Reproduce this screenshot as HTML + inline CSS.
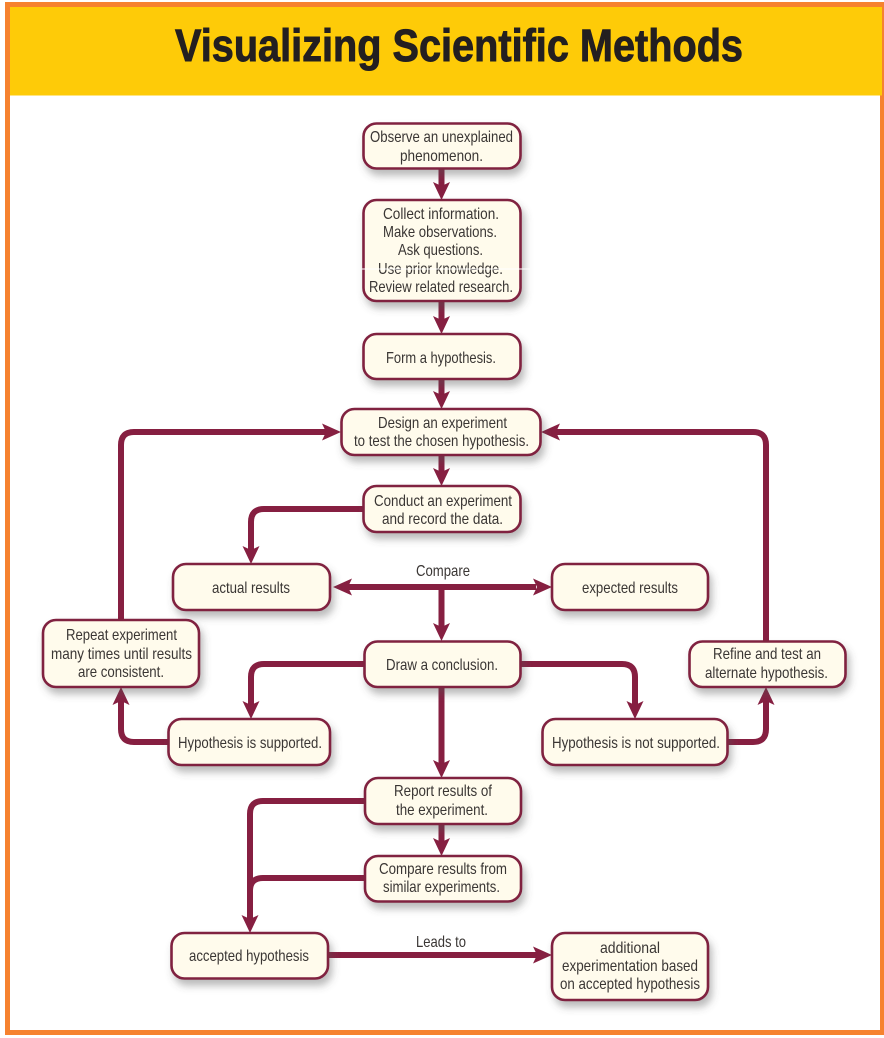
<!DOCTYPE html>
<html><head><meta charset="utf-8"><title>Visualizing Scientific Methods</title>
<style>
html,body{margin:0;padding:0;background:#fff;width:884px;height:1038px;overflow:hidden}
svg{display:block}
.t text{font-family:"Liberation Sans Narrow","Liberation Sans",sans-serif;font-size:16px;fill:#3a3634}
.b rect{fill:#fffbec;stroke:#80203f;stroke-width:2.6}
.c path.l{fill:none;stroke:#861f41;stroke-width:6}
.c path.a{fill:#861f41}
</style></head><body>
<svg width="884" height="1038" viewBox="0 0 884 1038" xmlns="http://www.w3.org/2000/svg">
<defs><filter id="s" x="-15%" y="-25%" width="135%" height="170%"><feDropShadow dx="3" dy="6" stdDeviation="4" flood-color="#555" flood-opacity=".4"/></filter></defs>
<rect width="884" height="1038" fill="#fff"/>
<path d="M5 2H884V1035H5ZM10 95V1030H880V95Z" fill="#f6822f" fill-rule="evenodd"/>
<rect x="10" y="7" width="872" height="88.500" fill="#fecb08"/>
<text x="175" y="61" textLength="568" lengthAdjust="spacingAndGlyphs" font-family="Liberation Sans" font-weight="bold" font-size="45" fill="#231f20" stroke="#231f20" stroke-width="0.9">Visualizing Scientific Methods</text>
<g class="c">
<path class="l" d="M441.500 168V187M441.500 301V321M441.500 379V396M441.500 455V473M441.500 587V628M441.500 687V765M441.500 824V843"/>
<path class="l" d="M363 509H264Q251 509 251 522V551"/>
<path class="l" d="M348 587H536"/>
<path class="l" d="M364 664H264Q251 664 251 677V706"/>
<path class="l" d="M521 664H622Q635 664 635 677V706"/>
<path class="l" d="M168 742H134Q121 742 121 729V700"/>
<path class="l" d="M121 620V445Q121 432 134 432H328"/>
<path class="l" d="M766 641V445Q766 432 753 432H554"/>
<path class="l" d="M727 742H753Q766 742 766 729V700"/>
<path class="l" d="M365 801H263Q250 801 250 814V920"/>
<path class="l" d="M365 878H263Q250 878 250 891"/>
<path class="l" d="M328 955H540"/>
<path class="a" d="M433 182L441.500 200L450 182L441.500 186ZM433 316L441.500 334L450 316L441.500 320ZM433 391L441.500 409L450 391L441.500 395ZM433 468L441.500 486L450 468L441.500 472ZM433 623L441.500 641L450 623L441.500 627ZM433 760L441.500 778L450 760L441.500 764ZM433 838L441.500 856L450 838L441.500 842Z"/>
<path class="a" d="M242.500 546L251 564L259.500 546L251 550ZM242.500 701L251 719L259.500 701L251 705ZM626.500 701L635 719L643.500 701L635 705ZM241.500 915L250 933L258.500 915L250 919Z"/>
<path class="a" d="M112.500 705L121 687L129.500 705L121 701ZM757.500 705L766 687L774.500 705L766 701Z"/>
<path class="a" d="M322 423.500L341 432L322 440.500L326 432ZM560 423.500L541 432L560 440.500L556 432Z"/>
<path class="a" d="M352 578.500L333 587L352 595.500L348 587ZM533 578.500L552 587L533 595.500L537 587ZM533 946.500L552 955L533 963.500L537 955Z"/>
</g>
<g class="b" filter="url(#s)">
<rect x="363.500" y="123.500" width="157" height="45" rx="13"/>
<rect x="363.500" y="200" width="157" height="101" rx="13"/>
<rect x="363.500" y="334" width="157" height="45" rx="13"/>
<rect x="341.500" y="409" width="199" height="46" rx="13"/>
<rect x="363.500" y="486" width="157" height="46" rx="13"/>
<rect x="173" y="564" width="157" height="46" rx="13"/>
<rect x="552" y="564" width="156" height="46" rx="13"/>
<rect x="43" y="620" width="156" height="67" rx="13"/>
<rect x="364.500" y="641.500" width="156" height="45.500" rx="13"/>
<rect x="689.500" y="641.500" width="156" height="45.500" rx="13"/>
<rect x="168.500" y="719" width="161.500" height="46" rx="13"/>
<rect x="542.500" y="719" width="185" height="46" rx="13"/>
<rect x="365" y="778" width="156" height="46" rx="13"/>
<rect x="365" y="856" width="156" height="45.500" rx="13"/>
<rect x="171.500" y="933" width="156.500" height="45.500" rx="13"/>
<rect x="552" y="933" width="156" height="67" rx="13"/>
</g>
<g class="t">
<text x="370" y="142" textLength="143" lengthAdjust="spacingAndGlyphs">Observe an unexplained</text>
<text x="400" y="161" textLength="83" lengthAdjust="spacingAndGlyphs">phenomenon.</text>
<text x="383" y="219" textLength="116" lengthAdjust="spacingAndGlyphs">Collect information.</text>
<text x="383" y="237" textLength="114" lengthAdjust="spacingAndGlyphs">Make observations.</text>
<text x="398" y="255" textLength="85" lengthAdjust="spacingAndGlyphs">Ask questions.</text>
<text x="378" y="274" textLength="125" lengthAdjust="spacingAndGlyphs">Use prior knowledge.</text>
<text x="369" y="292" textLength="144" lengthAdjust="spacingAndGlyphs">Review related research.</text>
<text x="386" y="363" textLength="110" lengthAdjust="spacingAndGlyphs">Form a hypothesis.</text>
<text x="378" y="428" textLength="129" lengthAdjust="spacingAndGlyphs">Design an experiment</text>
<text x="354" y="446" textLength="175" lengthAdjust="spacingAndGlyphs">to test the chosen hypothesis.</text>
<text x="374" y="506" textLength="138" lengthAdjust="spacingAndGlyphs">Conduct an experiment</text>
<text x="382" y="524" textLength="121" lengthAdjust="spacingAndGlyphs">and record the data.</text>
<text x="416" y="576" textLength="54" lengthAdjust="spacingAndGlyphs">Compare</text>
<text x="212" y="593" textLength="78" lengthAdjust="spacingAndGlyphs">actual results</text>
<text x="582" y="593" textLength="96" lengthAdjust="spacingAndGlyphs">expected results</text>
<text x="66" y="640" textLength="111" lengthAdjust="spacingAndGlyphs">Repeat experiment</text>
<text x="51" y="659" textLength="141" lengthAdjust="spacingAndGlyphs">many times until results</text>
<text x="78" y="677" textLength="86" lengthAdjust="spacingAndGlyphs">are consistent.</text>
<text x="386" y="670" textLength="112" lengthAdjust="spacingAndGlyphs">Draw a conclusion.</text>
<text x="713" y="659" textLength="108" lengthAdjust="spacingAndGlyphs">Refine and test an</text>
<text x="705" y="678" textLength="123" lengthAdjust="spacingAndGlyphs">alternate hypothesis.</text>
<text x="178" y="748" textLength="144" lengthAdjust="spacingAndGlyphs">Hypothesis is supported.</text>
<text x="552" y="748" textLength="168" lengthAdjust="spacingAndGlyphs">Hypothesis is not supported.</text>
<text x="394" y="796" textLength="98" lengthAdjust="spacingAndGlyphs">Report results of</text>
<text x="396" y="815" textLength="92" lengthAdjust="spacingAndGlyphs">the experiment.</text>
<text x="379" y="874" textLength="128" lengthAdjust="spacingAndGlyphs">Compare results from</text>
<text x="383" y="892" textLength="117" lengthAdjust="spacingAndGlyphs">similar experiments.</text>
<text x="416" y="947" textLength="50" lengthAdjust="spacingAndGlyphs">Leads to</text>
<text x="189" y="961" textLength="120" lengthAdjust="spacingAndGlyphs">accepted hypothesis</text>
<text x="600" y="953" textLength="60" lengthAdjust="spacingAndGlyphs">additional</text>
<text x="562" y="971" textLength="136" lengthAdjust="spacingAndGlyphs">experimentation based</text>
<text x="560" y="989" textLength="140" lengthAdjust="spacingAndGlyphs">on accepted hypothesis</text>
</g>
<rect x="362" y="268.500" width="168" height="1" fill="#fff"/>
</svg>
</body></html>
